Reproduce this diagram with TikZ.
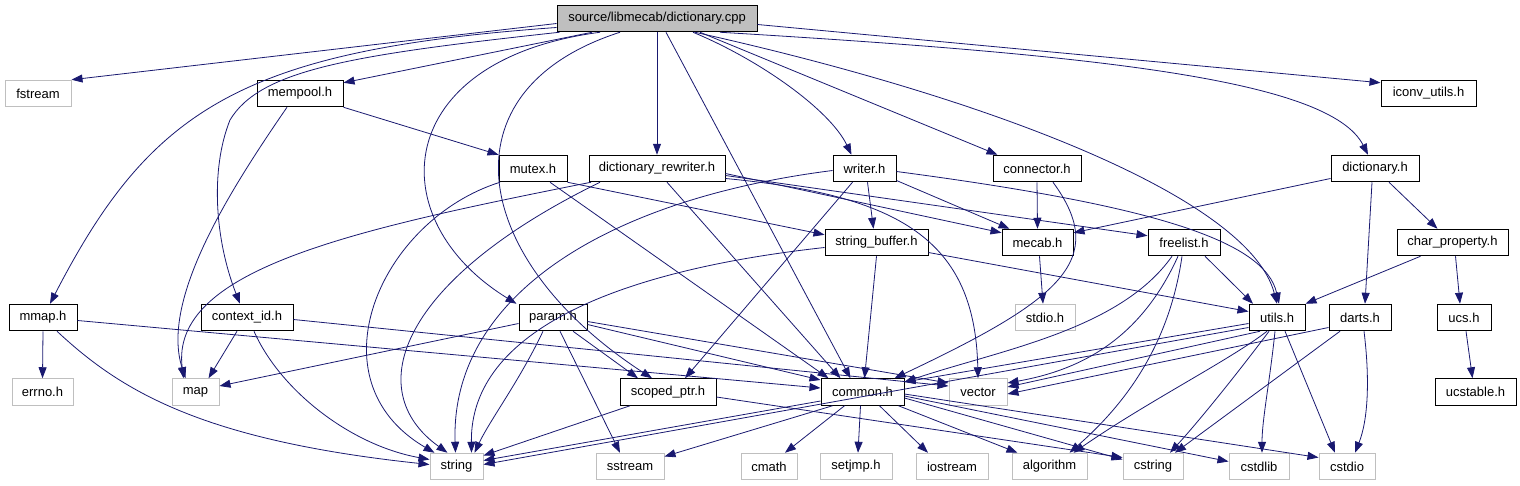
\documentclass[tikz,border=0pt]{standalone}
\usepackage{fontspec}
\setmainfont{Liberation Sans}
\usetikzlibrary{arrows.meta}
\definecolor{edgec}{RGB}{25,25,112}
\definecolor{extgray}{RGB}{191,191,191}
\tikzset{
  hdr/.style={draw=black, fill=white, line width=1pt, minimum height=26.5pt, inner sep=0pt, font=\fontsize{13}{15}\selectfont},
  ext/.style={hdr, draw=extgray},
  srcbox/.style={hdr, fill=extgray},
  dep/.style={draw=edgec, line width=0.8pt, -{Triangle[length=11pt,width=8pt]}}
}
\begin{document}
\begin{tikzpicture}[x=1pt,y=-1pt]
\useasboundingbox (0,0) rectangle (1520,485);
% row 0
\node[srcbox, minimum width=200pt] (cpp) at (657,18.5) {source/libmecab/dictionary.cpp};
% row 1
\node[ext, minimum width=66pt] (fstream) at (38,93.5) {fstream};
\node[hdr, minimum width=86pt] (mempool) at (300,93.5) {mempool.h};
\node[hdr, minimum width=95pt] (iconv) at (1428.5,93.5) {iconv\_utils.h};
% row 2
\node[hdr, minimum width=68pt] (mutex) at (533,168.5) {mutex.h};
\node[hdr, minimum width=136pt] (dictrw) at (657,168.5) {dictionary\_rewriter.h};
\node[hdr, minimum width=63pt] (writer) at (864.5,168.5) {writer.h};
\node[hdr, minimum width=88pt] (connector) at (1037,168.5) {connector.h};
\node[hdr, minimum width=88pt] (dicth) at (1375,168.5) {dictionary.h};
% row 3
\node[hdr, minimum width=103pt] (strbuf) at (876.5,242.5) {string\_buffer.h};
\node[hdr, minimum width=71pt] (mecab) at (1037.5,242.5) {mecab.h};
\node[hdr, minimum width=72pt] (freelist) at (1184,242.5) {freelist.h};
\node[hdr, minimum width=111pt] (charprop) at (1452.5,242.5) {char\_property.h};
% row 4
\node[hdr, minimum width=68pt] (mmap) at (43,317.5) {mmap.h};
\node[hdr, minimum width=92pt] (ctxid) at (247,317.5) {context\_id.h};
\node[hdr, minimum width=68pt] (param) at (553,317.5) {param.h};
\node[ext, minimum width=60pt] (stdioh) at (1045,317.5) {stdio.h};
\node[hdr, minimum width=56pt] (utils) at (1277,317.5) {utils.h};
\node[hdr, minimum width=62pt] (darts) at (1360,317.5) {darts.h};
\node[hdr, minimum width=54pt] (ucs) at (1464,317.5) {ucs.h};
% row 5
\node[ext, minimum width=61pt] (errnoh) at (42.5,392) {errno.h};
\node[ext, minimum width=47pt] (map) at (195.5,392) {map};
\node[hdr, minimum width=96pt] (scoped) at (668,392) {scoped\_ptr.h};
\node[hdr, minimum width=83pt] (common) at (862.5,392) {common.h};
\node[ext, minimum width=58pt] (vector) at (978,392) {vector};
\node[hdr, minimum width=81pt] (ucstable) at (1475.5,392) {ucstable.h};
% row 6
\node[ext, minimum width=53pt] (string) at (456.5,466.5) {string};
\node[ext, minimum width=68pt] (sstream) at (630,466.5) {sstream};
\node[ext, minimum width=56pt] (cmath) at (769,466.5) {cmath};
\node[ext, minimum width=72pt] (setjmp) at (856,466.5) {setjmp.h};
\node[ext, minimum width=72pt] (iostream) at (952,466.5) {iostream};
\node[ext, minimum width=75pt] (algorithm) at (1049.5,466.5) {algorithm};
\node[ext, minimum width=60pt] (cstring) at (1153,466.5) {cstring};
\node[ext, minimum width=60pt] (cstdlib) at (1259,466.5) {cstdlib};
\node[ext, minimum width=56pt] (cstdio) at (1347,466.5) {cstdio};

% ---- edges from dictionary.cpp
\draw[dep] ([yshift=-5pt]cpp.west) -- (fstream.north east);
\draw[dep] ([yshift=-9pt]cpp.west) .. controls (240,50) and (150,110) .. ([xshift=7pt]mmap.north);
\draw[dep] ([xshift=3pt]cpp.south west) .. controls (350,55) and (260,70) .. (230,120) .. controls (210,170) and (215,240) .. ([xshift=-7pt]ctxid.north);
\draw[dep] ([xshift=-65pt]cpp.south) -- ([yshift=-3pt]mempool.north east);
\draw[dep] ([xshift=-57pt]cpp.south) .. controls (390,60) and (380,220) .. ([xshift=-2pt]param.north west);
\draw[dep] ([xshift=-37pt]cpp.south) .. controls (440,90) and (470,260) .. ([xshift=-16pt]scoped.north);
\draw[dep] (cpp.south) -- (dictrw.north);
\draw[dep] ([xshift=9pt]cpp.south) -- ([xshift=-12pt]common.north);
\draw[dep] ([xshift=36pt]cpp.south) .. controls (760,60) and (830,110) .. ([xshift=-13pt]writer.north);
\draw[dep] ([xshift=43pt]cpp.south) -- ([xshift=5pt]connector.north west);
\draw[dep] ([xshift=63pt]cpp.south) .. controls (1100,55) and (1330,80) .. ([xshift=-7pt]dicth.north);
\draw[dep] ([yshift=-6pt]cpp.east) -- ([yshift=-3pt]iconv.north west);
\draw[dep] ([xshift=38pt]cpp.south) .. controls (1000,100) and (1250,200) .. (utils.north);
% ---- mempool.h
\draw[dep] (mempool.south east) -- (mutex.north west);
\draw[dep] ([xshift=-13pt]mempool.south) .. controls (230,190) and (160,300) .. ([xshift=-10pt]map.north);
% ---- mutex.h
\draw[dep] (mutex.south east) -- ([yshift=-6pt]strbuf.north west);
\draw[dep] ([xshift=17pt]mutex.south) -- ([xshift=-34pt]common.north);
\draw[dep] ([xshift=-33pt]mutex.south) .. controls (380,220) and (310,380) .. ([xshift=-22pt]string.north);
% ---- dictionary_rewriter.h
\draw[dep] ([xshift=-66pt]dictrw.south) .. controls (350,230) and (170,270) .. ([xshift=-12pt]map.north);
\draw[dep] ([xshift=-57pt]dictrw.south) .. controls (400,280) and (360,390) .. ([xshift=-9pt]string.north);
\draw[dep] ([xshift=10pt]dictrw.south) -- ([xshift=-22pt]common.north);
\draw[dep] ([yshift=-5pt]dictrw.east) -- ([yshift=-4pt]mecab.north west);
\draw[dep] ([yshift=-7pt]dictrw.east) -- ([yshift=-7pt]freelist.north west);
\draw[dep] ([yshift=-10pt]dictrw.east) .. controls (900,195) and (975,240) .. (vector.north);
% ---- writer.h
\draw[dep] ([xshift=3pt]writer.south) -- ([xshift=-3pt]strbuf.north);
\draw[dep] ([xshift=-12pt]writer.south) -- ([xshift=17pt]scoped.north);
\draw[dep] ([yshift=-2pt]writer.west) .. controls (600,200) and (450,300) .. ([xshift=-1pt]string.north);
\draw[dep] ([yshift=-12pt]writer.east) -- ([xshift=8pt]mecab.north west);
\draw[dep] ([yshift=-3pt]writer.east) .. controls (1150,205) and (1265,240) .. ([xshift=2pt]utils.north);
% ---- connector.h
\draw[dep] (connector.south) -- (mecab.north);
\draw[dep] ([xshift=16pt]connector.south) .. controls (1110,260) and (1060,300) .. ([xshift=-10pt]common.north east);
% ---- dictionary.h
\draw[dep] ([yshift=-10pt]dicth.west) -- ([yshift=-4pt]mecab.north east);
\draw[dep] ([xshift=-3pt]dicth.south) -- ([xshift=5pt]darts.north);
\draw[dep] ([xshift=14pt]dicth.south) -- ([xshift=-15pt]charprop.north);
% ---- string_buffer.h
\draw[dep] ([yshift=-5pt]strbuf.west) .. controls (620,270) and (470,330) .. ([xshift=15pt]string.north);
\draw[dep] (strbuf.south) -- ([xshift=2pt]common.north);
\draw[dep] ([yshift=-10pt]strbuf.east) -- ([yshift=6pt]utils.west);
% ---- mecab.h
\draw[dep] ([xshift=2pt]mecab.south) -- ([xshift=-2pt]stdioh.north);
% ---- freelist.h
\draw[dep] ([xshift=21pt]freelist.south) -- ([xshift=-24pt]utils.north);
\draw[dep] ([xshift=-12pt]freelist.south) .. controls (1120,330) and (1000,350) .. ([yshift=10pt]common.east);
\draw[dep] ([xshift=-6pt]freelist.south) .. controls (1140,340) and (1080,370) .. ([yshift=9pt]vector.east);
\draw[dep] ([xshift=-2pt]freelist.south) .. controls (1170,340) and (1130,400) .. ([xshift=20pt]algorithm.north);
% ---- char_property.h, ucs.h
\draw[dep] ([xshift=-32pt]charprop.south) -- (utils.north east);
\draw[dep] ([xshift=3pt]charprop.south) -- ([xshift=-4pt]ucs.north);
\draw[dep] ([xshift=2pt]ucs.south) -- ([xshift=-3pt]ucstable.north);
% ---- mmap.h
\draw[dep] (mmap.south) -- (errnoh.north);
\draw[dep] ([xshift=14pt]mmap.south) .. controls (120,390) and (200,440) .. ([yshift=2pt]string.west);
\draw[dep] ([yshift=-3pt]mmap.east) -- ([yshift=4pt]common.west);
% ---- context_id.h
\draw[dep] ([xshift=-10pt]ctxid.south) -- ([xshift=13pt]map.north);
\draw[dep] ([xshift=7pt]ctxid.south) .. controls (280,390) and (350,445) .. ([yshift=7pt]string.west);
\draw[dep] ([yshift=-2pt]ctxid.east) -- ([yshift=6pt]vector.west);
% ---- param.h
\draw[dep] ([yshift=-6pt]param.west) -- ([yshift=6pt]map.east);
\draw[dep] ([xshift=-10pt]param.south) .. controls (520,380) and (490,420) .. ([xshift=18pt]string.north);
\draw[dep] ([xshift=7pt]param.south) -- ([xshift=-10pt]sstream.north);
\draw[dep] ([xshift=20pt]param.south) -- ([xshift=-30pt]scoped.north);
\draw[dep] ([yshift=-7pt]param.east) -- ([yshift=12pt]common.west);
\draw[dep] ([yshift=-4pt]param.east) -- ([yshift=9pt]vector.west);
% ---- utils.h
\draw[dep] ([yshift=-10pt]utils.west) -- ([yshift=2pt]string.east);
\draw[dep] ([yshift=-6pt]utils.west) -- ([yshift=10pt]common.east);
\draw[dep] ([xshift=-17pt]utils.south) -- ([yshift=5pt]vector.east);
\draw[dep] ([xshift=-10pt]utils.south) .. controls (1230,360) and (1150,400) .. ([xshift=24pt]algorithm.north);
\draw[dep] ([xshift=-8pt]utils.south) .. controls (1240,370) and (1200,420) .. ([xshift=17pt]cstring.north);
\draw[dep] ([xshift=-2pt]utils.south) .. controls (1270,380) and (1262,420) .. ([xshift=3pt]cstdlib.north);
\draw[dep] ([xshift=8pt]utils.south) -- ([xshift=-12pt]cstdio.north);
% ---- darts.h
\draw[dep] ([yshift=-10pt]darts.west) -- ([yshift=-2pt]vector.east);
\draw[dep] ([xshift=-20pt]darts.south) -- ([xshift=22pt]cstring.north);
\draw[dep] ([xshift=4pt]darts.south) .. controls (1370,380) and (1368,420) .. ([xshift=8pt]cstdio.north);
% ---- common.h
\draw[dep] ([yshift=-9pt]common.west) -- ([yshift=6pt]string.east);
\draw[dep] ([xshift=-30pt]common.south) -- ([yshift=10pt]sstream.east);
\draw[dep] ([xshift=-18pt]common.south) -- ([xshift=16pt]cmath.north);
\draw[dep] ([xshift=-2pt]common.south) -- ([xshift=2pt]setjmp.north);
\draw[dep] ([xshift=17pt]common.south) -- ([xshift=-24pt]iostream.north);
\draw[dep] ([xshift=36pt]common.south) -- ([xshift=-32pt]algorithm.north);
\draw[dep] ([yshift=-6pt]common.east) -- ([yshift=7pt]cstring.west);
\draw[dep] ([yshift=-4pt]common.east) -- ([yshift=5pt]cstdlib.west);
\draw[dep] ([yshift=-2pt]common.east) -- ([yshift=9pt]cstdio.west);
% ---- scoped_ptr.h
\draw[dep] ([xshift=-38pt]scoped.south) -- ([yshift=11pt]string.east);
\draw[dep] ([yshift=-5pt]scoped.east) -- ([yshift=9pt]cstring.west);
\end{tikzpicture}
\end{document}
